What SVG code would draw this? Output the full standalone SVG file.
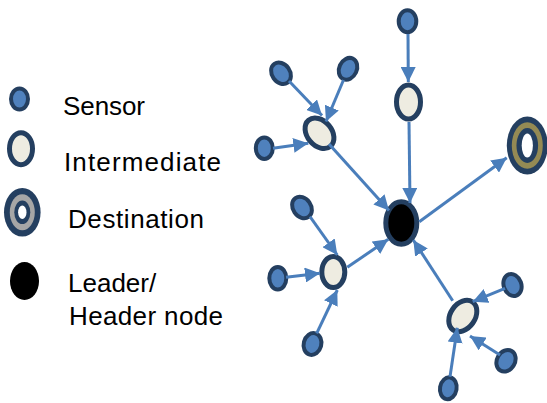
<svg xmlns="http://www.w3.org/2000/svg" width="547" height="403" viewBox="0 0 547 403">
<style>
.sensor{fill:#4f81bd;stroke:#243f60;stroke-width:4}
.inter{fill:#eeece1;stroke:#243f60;stroke-width:5}
.leader{fill:#000;stroke:#243f60;stroke-width:5}
.navy{fill:#243f60}
.lbl{font-family:"Liberation Sans",Arial,sans-serif;font-size:26px;fill:#000}
.conn line{stroke:#4a7ebb;stroke-width:3;marker-end:url(#arr)}
</style>
<defs>
<marker id="arr" markerUnits="userSpaceOnUse" markerWidth="15" markerHeight="15" refX="15" refY="7.5" orient="auto" viewBox="0 0 15 15">
<path d="M0,0 L15,7.5 L0,15 z" fill="#4a7ebb"/>
</marker>
</defs>
<rect width="547" height="403" fill="#fff"/>

<g id="legend-sensor"><ellipse class="sensor" cx="19.5" cy="99" rx="8.5" ry="10.5"/><text class="lbl" x="63" y="115" textLength="82" lengthAdjust="spacing">Sensor</text></g>
<g id="legend-intermediate"><ellipse class="inter" cx="21" cy="148.7" rx="11.5" ry="16"/><text class="lbl" x="64" y="170.7" textLength="157" lengthAdjust="spacing">Intermediate</text></g>
<g id="legend-destination">
<ellipse class="navy" cx="22.3" cy="212.3" rx="18.3" ry="24.3"/>
<ellipse fill="#a6a6a6" cx="22.3" cy="212.3" rx="12.5" ry="18"/>
<ellipse class="navy" cx="22.3" cy="212.3" rx="8" ry="11.8"/>
<ellipse fill="#fff" cx="22.3" cy="212.3" rx="4.2" ry="6.8"/>
<text class="lbl" x="68" y="228" textLength="136" lengthAdjust="spacing">Destination</text></g>
<g id="legend-leader"><ellipse fill="#000" cx="24.5" cy="281" rx="14.5" ry="19"/><text class="lbl" x="68" y="292">Leader/</text><text class="lbl" x="69" y="325" textLength="154" lengthAdjust="spacing">Header node</text></g>

<g id="n-top-sensor"><ellipse class="sensor" cx="407.5" cy="21.3" rx="8.8" ry="11"/></g>
<g id="n-top-inter"><ellipse class="inter" cx="408.5" cy="102" rx="12" ry="17"/></g>
<g id="n-ul-sensor-a"><ellipse class="sensor" transform="rotate(-35 281 73.3)" cx="281" cy="73.3" rx="9" ry="11.5"/></g>
<g id="n-ul-sensor-b"><ellipse class="sensor" transform="rotate(25 348 68.8)" cx="348" cy="68.8" rx="8.8" ry="11.3"/></g>
<g id="n-ul-sensor-c"><ellipse class="sensor" cx="264.3" cy="148.2" rx="8.5" ry="10.8"/></g>
<g id="n-ul-inter"><ellipse class="inter" transform="rotate(-40 319.5 133.3)" cx="319.5" cy="133.3" rx="12.3" ry="17"/></g>
<g id="n-leader"><ellipse class="leader" cx="401.3" cy="223" rx="15.5" ry="21.2"/></g>
<g id="n-destination">
<ellipse class="navy" cx="527.3" cy="145.5" rx="20.5" ry="29"/>
<ellipse fill="#948a54" cx="527.3" cy="145.5" rx="15.5" ry="23.3"/>
<ellipse class="navy" cx="527.3" cy="145.5" rx="10.8" ry="17.5"/>
<ellipse fill="#fff" cx="527.3" cy="145.5" rx="5.6" ry="12"/>
</g>
<g id="n-lb-sensor-top"><ellipse class="sensor" transform="rotate(-35 302 207.5)" cx="302" cy="207.5" rx="9" ry="11.5"/></g>
<g id="n-lb-sensor-left"><ellipse class="sensor" cx="277.8" cy="278.3" rx="8.5" ry="11.3"/></g>
<g id="n-lb-sensor-bottom"><ellipse class="sensor" transform="rotate(15 312.5 344)" cx="312.5" cy="344" rx="8.8" ry="11"/></g>
<g id="n-lb-inter"><ellipse class="inter" cx="333.3" cy="272" rx="11.5" ry="15.5"/></g>
<g id="n-br-inter"><ellipse class="inter" transform="rotate(35 462.8 316)" cx="462.8" cy="316" rx="12.3" ry="17"/></g>
<g id="n-br-sensor-ur"><ellipse class="sensor" transform="rotate(-20 512.5 285)" cx="512.5" cy="285" rx="8.8" ry="11.3"/></g>
<g id="n-br-sensor-lr"><ellipse class="sensor" transform="rotate(30 506 360.8)" cx="506" cy="360.8" rx="9" ry="11.3"/></g>
<g id="n-br-sensor-b"><ellipse class="sensor" transform="rotate(10 448.3 388.3)" cx="448.3" cy="388.3" rx="8.3" ry="11"/></g>

<g id="connectors" class="conn">
<line x1="408" y1="34" x2="408.3" y2="82"/>
<line x1="409" y1="122" x2="410" y2="203"/>
<line x1="289" y1="81" x2="322" y2="115.5"/>
<line x1="343.5" y1="80" x2="326" y2="121.5"/>
<line x1="273" y1="148.3" x2="308.3" y2="143.3"/>
<line x1="329" y1="144" x2="389" y2="210.5"/>
<line x1="419.3" y1="221.7" x2="506.7" y2="157.7"/>
<line x1="310" y1="216.7" x2="337.3" y2="255"/>
<line x1="286" y1="277.3" x2="320" y2="273.3"/>
<line x1="316.7" y1="333.3" x2="337.3" y2="290"/>
<line x1="347.3" y1="267.3" x2="388.3" y2="239.3"/>
<line x1="452.7" y1="300.7" x2="413.3" y2="240"/>
<line x1="505" y1="288.3" x2="472.7" y2="301.7"/>
<line x1="500" y1="355" x2="470" y2="336"/>
<line x1="450" y1="376.7" x2="457.3" y2="327.7"/>
</g>
</svg>
